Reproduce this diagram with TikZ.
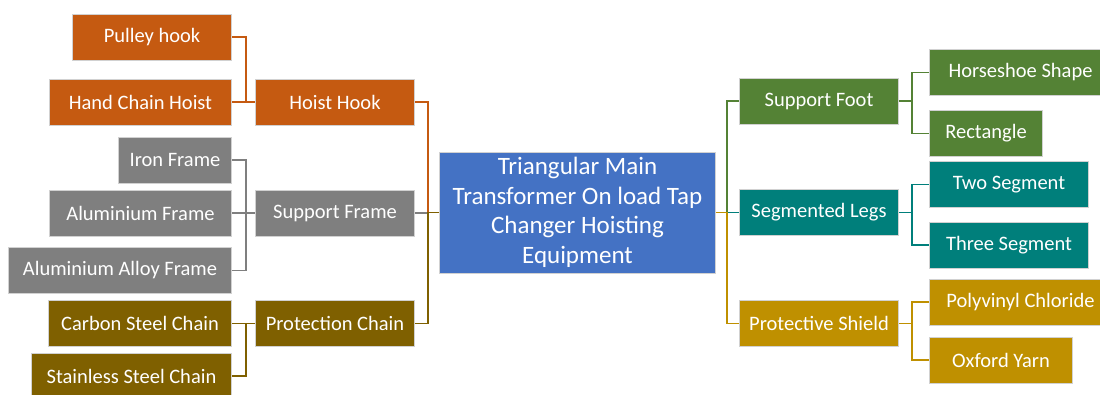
\documentclass[tikz,border=0pt]{standalone}
\usepackage{fontspec}
\setmainfont{Carlito}
\usepackage{xcolor}
\usepackage{tikz}
\usetikzlibrary{positioning, calc}

\definecolor{hookc}{HTML}{C55A11}
\definecolor{framec}{HTML}{7F7F7F}
\definecolor{chainc}{HTML}{7F6000}
\definecolor{footc}{HTML}{548235}
\definecolor{legc}{HTML}{007F7B}
\definecolor{shieldc}{HTML}{BF9000}
\definecolor{mainc}{HTML}{4472C4}

\begin{document}
\begin{tikzpicture}[
    x=1pt, y=-1pt,
    box/.style={rectangle, draw=black!18, line width=1pt, text=white, minimum height=46pt, inner sep=0pt, font=\fontsize{20.5}{24}\selectfont},
    mainbox/.style={box, fill=mainc, minimum width=276pt, minimum height=121pt, align=center, font=\fontsize{25}{29.5}\selectfont},
    hookbox/.style={box, fill=hookc},
    framebox/.style={box, fill=framec},
    chainbox/.style={box, fill=chainc},
    footbox/.style={box, fill=footc},
    legbox/.style={box, fill=legc},
    shieldbox/.style={box, fill=shieldc},
    link/.style={line width=1.5pt}
]

\clip (0,0) rectangle (1100,394);
\useasboundingbox (0,0) rectangle (1100,394);

% Root
\node[mainbox] (main) at (577.5,212.5) {Triangular Main\\Transformer On load Tap\\Changer Hoisting\\Equipment};

% Left branches
\node[hookbox, minimum width=159pt, anchor=east] (hoist) at (415,102) {Hoist Hook};
\node[framebox, minimum width=159pt, anchor=east] (sframe) at (415,213) {Support Frame};
\node[chainbox, minimum width=159pt, anchor=east] (pchain) at (415,323.5) {Protection Chain};

% Left leaves
\node[hookbox, minimum width=159pt, anchor=east] (pulley) at (232,37) {Pulley hook};
\node[hookbox, minimum width=182pt, anchor=east] (handchain) at (232,102) {Hand Chain Hoist};
\node[framebox, minimum width=113pt, anchor=east] (iron) at (232,160) {Iron Frame};
\node[framebox, minimum width=182pt, anchor=east] (alframe) at (232,213) {Aluminium Frame};
\node[framebox, minimum width=223pt, anchor=east] (alloy) at (232,270.5) {Aluminium Alloy Frame};
\node[chainbox, minimum width=183pt, anchor=east] (carbon) at (232,323.5) {Carbon Steel Chain};
\node[chainbox, minimum width=200pt, anchor=east] (stainless) at (232,376) {Stainless Steel Chain};

% Right branches
\node[footbox, minimum width=159pt, anchor=west] (sfoot) at (739,101) {Support Foot};
\node[legbox, minimum width=159pt, anchor=west] (slegs) at (739,212.5) {Segmented Legs};
\node[shieldbox, minimum width=159pt, anchor=west] (pshield) at (739,323.5) {Protective Shield};

% Right leaves
\node[footbox, minimum width=182pt, anchor=west] (horseshoe) at (929,72.5) {Horseshoe Shape};
\node[footbox, minimum width=113pt, anchor=west] (rect) at (929,133.5) {Rectangle};
\node[legbox, minimum width=159pt, anchor=west] (twoseg) at (929,184.5) {Two Segment};
\node[legbox, minimum width=159pt, anchor=west] (threeseg) at (929,245) {Three Segment};
\node[shieldbox, minimum width=182pt, anchor=west] (pvc) at (929,302) {Polyvinyl Chloride};
\node[shieldbox, minimum width=143pt, anchor=west] (oxford) at (929,360) {Oxford Yarn};

% Leaf connectors, left
\draw[link, hookc] (pulley.east) -- ++(14,0) |- (hoist.west);
\draw[link, hookc] (handchain.east) -- (hoist.west);
\draw[link, framec] (iron.east) -- ++(14,0) |- (sframe.west);
\draw[link, framec] (alloy.east) -- ++(14,0) |- (sframe.west);
\draw[link, framec] (alframe.east) -- (sframe.west);
\draw[link, chainc] (carbon.east) -- (pchain.west);
\draw[link, chainc] (stainless.east) -- ++(14,0) |- (pchain.west);

% Branch connectors to root
\draw[link, hookc] (hoist.east) -- ++(13,0) |- (main.west);
\draw[link, framec] (sframe.east) -- ++(13,0);
\draw[link, chainc] (pchain.east) -- ++(13,0) |- (main.west);
\draw[link, footc] (main.east) -- ++(11,0) |- (sfoot.west);
\draw[link, legc] (main.east) -- (slegs.west);
\draw[link, shieldc] (main.east) -- ++(11,0) |- (pshield.west);

% Leaf connectors, right
\draw[link, footc] (sfoot.east) -- ++(13,0) |- (horseshoe.west);
\draw[link, footc] (sfoot.east) -- ++(13,0) |- (rect.west);
\draw[link, legc] (slegs.east) -- ++(13,0) |- (twoseg.west);
\draw[link, legc] (slegs.east) -- ++(13,0) |- (threeseg.west);
\draw[link, shieldc] (pshield.east) -- ++(13,0) |- (pvc.west);
\draw[link, shieldc] (pshield.east) -- ++(13,0) |- (oxford.west);

\end{tikzpicture}
\end{document}
